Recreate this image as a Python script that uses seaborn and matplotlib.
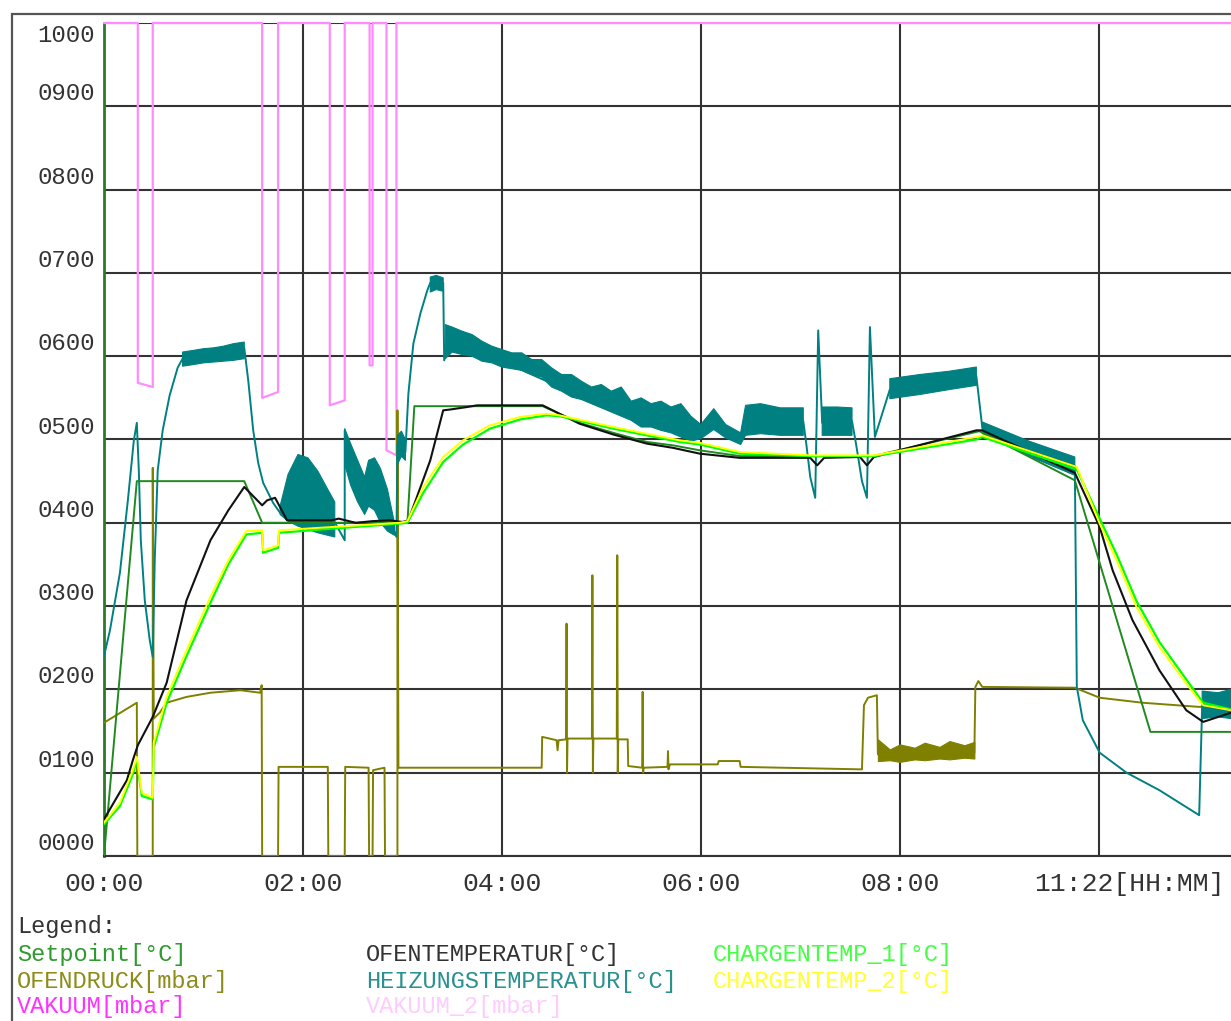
import matplotlib
matplotlib.use("Agg")
import matplotlib.pyplot as plt
import matplotlib.transforms as mtransforms
from matplotlib.patches import Rectangle
import seaborn as sns

nan = float("nan")

# time in hours since start, values in °C / mbar
SETPOINT_T = [0.00, 0.33, 1.41, 1.59, 3.05, 3.12, 4.41, 4.78, 5.12, 5.46, 5.72, 5.99, 6.40, 7.73, 8.80, 9.76, 10.52, 11.33]
SETPOINT_V = [0, 450, 450, 400, 400, 540, 540, 520, 508, 497, 493, 487, 480, 480, 510, 451, 149, 149]

OFEN_T = [0.00, 0.23, 0.29, 0.34, 0.49, 0.63, 0.83, 1.07, 1.25, 1.41,
          1.59, 1.64, 1.72, 1.84, 2.29, 2.36, 2.53, 2.70, 2.87, 3.00,
          3.06, 3.28, 3.41, 3.48, 3.65, 3.75, 4.41, 4.78, 5.12, 5.46,
          5.72, 5.99, 6.39, 7.10, 7.17, 7.24, 7.60, 7.67, 7.74, 8.77,
          8.83, 9.76, 10.01, 10.14, 10.34, 10.61, 10.88, 11.05, 11.33]
OFEN_V = [44, 91, 115, 133, 167, 208, 307, 379, 415, 443,
          421, 427, 430, 403, 403, 405, 400, 402, 403, 401,
          403, 475, 535, 536, 539, 541, 541, 519, 506, 495,
          490, 483, 478, 478, 469, 478, 479, 469, 479, 511,
          511, 460, 395, 343, 283, 223, 175, 161, 172]

CHARGE_T = [0.00, 0.16, 0.29, 0.33, 0.38, 0.49, 0.50, 0.63, 0.83, 1.07,
            1.25, 1.43, 1.59, 1.60, 1.75, 1.76, 2.30, 2.97, 3.05, 3.21,
            3.41, 3.61, 3.88, 4.18, 4.45, 4.58, 5.12, 5.79, 5.99, 6.39,
            7.10, 7.74, 8.77, 8.83, 9.78, 10.01, 10.18, 10.38, 10.61, 10.88,
            11.05, 11.33]
CHARGE1_V = [38, 60, 98, 115, 72, 68, 130, 184, 240, 304,
             350, 386, 388, 364, 370, 388, 393, 399, 400, 436,
             473, 494, 513, 524, 529, 528, 513, 497, 494, 483,
             480, 480, 500, 503, 464, 405, 362, 306, 257, 212,
             184, 176]
CHARGE2_V = [40, 64, 103, 119, 76, 70, 136, 191, 247, 311,
             355, 390, 391, 367, 373, 391, 395, 400, 402, 443,
             479, 499, 517, 527, 531, 529, 515, 499, 496, 485,
             481, 481, 503, 505, 467, 399, 355, 299, 251, 207,
             181, 175]

HEIZ_T = [0.00, 0.06, 0.16, 0.24, 0.30, 0.33, 0.35, 0.37, 0.41, 0.46,
          0.49, 0.51, 0.54, 0.59, 0.66, 0.74, 0.79, 1.10, 1.41, 1.45,
          1.50, 1.55, 1.60, 1.70, 1.77, 1.90, 2.00, 2.15, 2.30, 2.42,
          2.42, 2.55, 2.65, 2.75, 2.85, 2.94, 2.95, 3.03, 3.06, 3.11,
          3.18, 3.25, 3.28, 3.41, 3.42, 3.45, 3.70, 4.00, 4.45, 5.00,
          5.40, 5.72, 6.00, 6.13, 6.40, 6.45, 7.03, 7.06, 7.10, 7.15,
          7.18, 7.22, 7.52, 7.56, 7.62, 7.67, 7.70, 7.75, 7.90, 8.30,
          8.77, 8.83, 9.30, 9.76, 9.78, 9.84, 10.01, 10.28, 10.61, 11.01,
          11.04, 11.33]
HEIZ_V = [240, 271, 340, 427, 499, 520, 463, 379, 307, 259,
          239, 355, 463, 511, 553, 586, 597, 601, 610, 571,
          511, 472, 448, 424, 412, 440, 455, 445, 405, 379,
          511, 455, 430, 445, 410, 383, 495, 485, 555, 615,
          651, 679, 688, 688, 595, 618, 610, 594, 570, 549,
          529, 523, 510, 525, 500, 523, 522, 495, 455, 430,
          631, 520, 522, 495, 450, 430, 635, 503, 560, 565,
          576, 514, 490, 468, 203, 163, 124, 100, 79, 49,
          180, 180]

# envelope of the noisy heater stretches (nan splits the stretches)
HEIZ_BAND_T = [0.79, 0.90, 1.00, 1.10, 1.20, 1.30, 1.41, nan,
               1.77, 1.85, 1.95, 2.05, 2.15, 2.25, 2.32, nan,
               2.42, 2.48, 2.55, 2.62, 2.66, 2.72, 2.78, 2.85, 2.92, nan,
               2.95, 2.99, 3.03, nan,
               3.28, 3.34, 3.41, nan,
               3.43, 3.50, 3.60, 3.70, 3.80, 3.90, 4.00, 4.10, 4.20, 4.30,
               4.40, 4.50, 4.60, 4.70, 4.80, 4.90, 5.00, 5.10, 5.20, 5.30,
               5.40, 5.50, 5.60, 5.70, 5.80, 5.90, 6.00, 6.13, 6.25, 6.40,
               6.45, 6.60, 6.80, 7.03, nan,
               7.22, 7.37, 7.52, nan,
               7.90, 8.20, 8.50, 8.77, nan,
               8.83, 9.30, 9.76, nan,
               11.04, 11.20, 11.33]
HEIZ_BAND_LO = [588, 590, 592, 593, 594, 595, 597, nan,
                410, 402, 396, 392, 388, 385, 383, nan,
                470, 445, 425, 410, 420, 415, 400, 390, 385, nan,
                470, 480, 475, nan,
                677, 680, 678, nan,
                597, 605, 602, 600, 594, 592, 587, 585, 583, 578,
                575, 563, 558, 551, 548, 543, 538, 533, 528, 523,
                515, 515, 511, 508, 503, 498, 501, 512, 502, 494,
                505, 507, 505, 505, nan,
                505, 505, 505, nan,
                549, 554, 560, 565, nan,
                507, 480, 457, nan,
                165, 167, 165]
HEIZ_BAND_HI = [605, 607, 609, 610, 612, 615, 617, nan,
                420, 458, 482, 478, 462, 440, 425, nan,
                513, 495, 475, 455, 475, 478, 465, 440, 400, nan,
                505, 510, 500, nan,
                695, 697, 694, nan,
                638, 635, 630, 626, 618, 612, 608, 604, 604, 596,
                596, 586, 578, 578, 570, 563, 566, 558, 563, 546,
                550, 543, 546, 539, 543, 528, 518, 537, 518, 508,
                541, 543, 538, 538, nan,
                539, 539, 538, nan,
                573, 578, 582, 587, nan,
                521, 498, 479, nan,
                198, 196, 200]

PRESS_T = [0.00, 0.33, 0.335, 0.49, 0.49, 0.50, 0.56, 0.63, 0.83, 1.07,
           1.37, 1.57, 1.585, 1.59, 1.75, 1.755, 2.25, 2.255, 2.42, 2.425,
           2.66, 2.665, 2.70, 2.705, 2.82, 2.825, 2.95, 2.95, 2.96, 3.50,
           4.40, 4.405, 4.55, 4.56, 4.57, 4.645, 4.65, 4.655, 4.66, 4.905,
           4.91, 4.915, 4.92, 5.155, 5.16, 5.165, 5.17, 5.265, 5.27, 5.41,
           5.415, 5.42, 5.425, 5.665, 5.67, 5.675, 5.69, 6.17, 6.18, 6.39,
           6.40, 7.62, 7.64, 7.68, 7.77, 7.78, 8.75, 8.76, 8.79, 8.83,
           9.76, 10.01, 10.44, 11.01, 11.33]
PRESS_V = [160, 184, 0, 0, 466, 165, 172, 184, 191, 196,
           199, 196, 205, 0, 0, 107, 107, 0, 0, 107,
           106, 0, 0, 103, 106, 0, 0, 535, 106, 106,
           106, 143, 139, 127, 139, 140, 279, 100, 141, 141,
           337, 100, 141, 141, 361, 100, 140, 140, 108, 106,
           197, 100, 106, 107, 126, 104, 110, 110, 114, 114,
           107, 104, 181, 190, 193, 122, 124, 203, 210, 203,
           202, 190, 184, 179, 181]
PRESS_BAND_T = [7.78, 7.90, 8.00, 8.15, 8.25, 8.40, 8.50, 8.65, 8.75]
PRESS_BAND_LO = [114, 115, 113, 116, 115, 117, 116, 118, 117]
PRESS_BAND_HI = [140, 128, 134, 130, 136, 131, 138, 133, 137]

VAK_T = [0.00, 0.34, 0.34, 0.49, 0.49, 1.59, 1.59, 1.75, 1.75, 2.27, 2.27,
         2.42, 2.42, 2.67, 2.67, 2.70, 2.70, 2.84, 2.84, 2.94, 2.94, 11.33]
VAK_V = [1000, 1000, 568, 563, 1000, 1000, 550, 557, 1000, 1000, 541,
         547, 1000, 1000, 589, 589, 1000, 1000, 487, 481, 1000, 1000]

X_TICKS = [0, 2, 4, 6, 8, 10]
X_LABELS = ["00:00", "02:00", "04:00", "06:00", "08:00", "11:22[HH:MM]"]
Y_TICKS = list(range(0, 1001, 100))
Y_LABELS = [f"{v:04d}" for v in Y_TICKS]

LEGEND = [
    ("Setpoint[°C]", "#2f9a2f", 17, 954),
    ("OFENDRUCK[mbar]", "#8c8c1a", 17, 981),
    ("VAKUUM[mbar]", "#ff33ff", 17, 1006),
    ("OFENTEMPERATUR[°C]", "#333333", 366, 954),
    ("HEIZUNGSTEMPERATUR[°C]", "#2a9090", 366, 981),
    ("VAKUUM_2[mbar]", "#ffccff", 366, 1006),
    ("CHARGENTEMP_1[°C]", "#44ff44", 713, 954),
    ("CHARGENTEMP_2[°C]", "#ffff33", 713, 981),
]

sns.set_style("white")
plt.rcParams["font.family"] = ["Liberation Mono", "DejaVu Sans Mono"]

W, H = 1231, 1021
fig = plt.figure(figsize=(W / 100, H / 100), dpi=100)
ax = fig.add_axes([104 / W, (H - 856) / H, (W - 104) / W, (856 - 23) / H])

teal = "#008080"
olive = "#808000"

sns.lineplot(x=VAK_T, y=VAK_V, ax=ax, color="#ff8cff", lw=1.6,
             estimator=None, sort=False, clip_on=False, zorder=3)
ax.fill_between(PRESS_BAND_T, PRESS_BAND_LO, PRESS_BAND_HI, color=olive,
                lw=0.8, edgecolor=olive, zorder=3)
sns.lineplot(x=PRESS_T, y=PRESS_V, ax=ax, color=olive, lw=1.4,
             estimator=None, sort=False, zorder=3)
ax.fill_between(HEIZ_BAND_T, HEIZ_BAND_LO, HEIZ_BAND_HI, color=teal,
                lw=0.8, edgecolor=teal, zorder=4)
sns.lineplot(x=HEIZ_T, y=HEIZ_V, ax=ax, color=teal, lw=1.4,
             estimator=None, sort=False, zorder=4)
sns.lineplot(x=SETPOINT_T, y=SETPOINT_V, ax=ax, color="#1f8a1f", lw=1.4,
             estimator=None, sort=False, zorder=5)
sns.lineplot(x=OFEN_T, y=OFEN_V, ax=ax, color="#111111", lw=1.5,
             estimator=None, sort=False, zorder=6)
sns.lineplot(x=CHARGE_T, y=CHARGE1_V, ax=ax, color="#00ff00", lw=1.6,
             estimator=None, sort=False, zorder=7)
sns.lineplot(x=CHARGE_T, y=CHARGE2_V, ax=ax, color="#ffff00", lw=1.4,
             estimator=None, sort=False, zorder=8)

ax.set_xlim(0, 11.33)
ax.set_ylim(0, 1000)
ax.set_xticks(X_TICKS)
ax.set_xticklabels(X_LABELS)
ax.set_yticks(Y_TICKS)
ax.set_yticklabels(Y_LABELS)
ax.set_xlabel("")
ax.set_ylabel("")
ax.grid(True, color="#333333", lw=1.5, zorder=1)
ax.set_axisbelow(True)

for side in ["top", "right"]:
    ax.spines[side].set_visible(False)
ax.spines["left"].set_color("#2a7a2a")
ax.spines["left"].set_linewidth(2)
ax.spines["bottom"].set_color("#333333")
ax.spines["bottom"].set_linewidth(1.5)

ax.tick_params(axis="x", length=9, width=1.5, color="#333333", pad=2.5,
               labelsize=19, labelcolor="#333333")
ax.tick_params(axis="y", length=13, width=1.2, color="#3a9a3a", pad=-6.5,
               labelsize=17.3, labelcolor="#333333")

# labels sit above their grid line, except the top one
for tick, val in zip(ax.yaxis.get_major_ticks(), Y_TICKS):
    dy = -10 if val == 1000 else 15
    off = mtransforms.ScaledTranslation(0, dy / 100, fig.dpi_scale_trans)
    tick.label1.set_transform(tick.label1.get_transform() + off)
last = ax.xaxis.get_major_ticks()[-1]
off = mtransforms.ScaledTranslation(31 / 100, 0, fig.dpi_scale_trans)
last.label1.set_transform(last.label1.get_transform() + off)

# outer frame of the screenshot
fig.add_artist(Rectangle((12 / W, -0.2), 1.2, 0.2 + (H - 14) / H,
                         transform=fig.transFigure, fill=False,
                         edgecolor="#555555", lw=1.6))

fig.text(17 / W, 1 - 926 / H, "Legend:", color="#333333", fontsize=17,
         ha="left", va="center")
for text, color, px, py in LEGEND:
    fig.text(px / W, 1 - py / H, text, color=color, fontsize=17,
             ha="left", va="center")

fig.savefig("out.png", dpi=100)
